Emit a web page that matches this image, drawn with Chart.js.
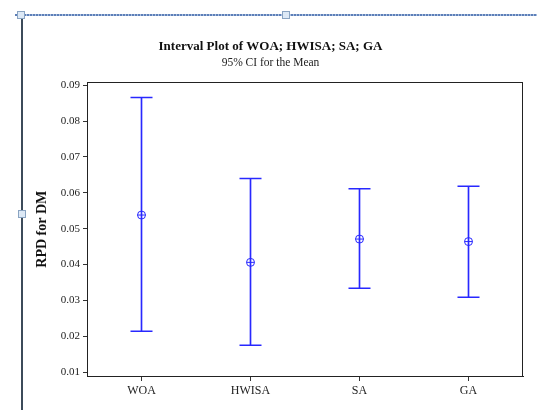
<!DOCTYPE html>
<html>
<head>
<meta charset="utf-8">
<script src="https://cdn.jsdelivr.net/npm/chart.js@4.4.0/dist/chart.umd.min.js"></script>
<style>
  body { margin: 0; background: #fff; }
  #wrap { position: relative; width: 537px; height: 410px; overflow: hidden; }
  #chartBox { position: absolute; left: 18px; top: 16px; width: 519px; height: 394px; }
  .hline { position: absolute; left: 15px; right: 0; top: 14px; height: 2px;
    background: repeating-linear-gradient(90deg, #5d7fb8 0 2px, #a9bfe0 2px 3px); }
  .vline { position: absolute; left: 21px; top: 15px; bottom: 0; width: 2px; background: #3c4b5a; }
  .handle { position: absolute; width: 6px; height: 6px; background: #dde9f6; border: 1px solid #8aa4c2; }
</style>
</head>
<body>
<div id="wrap">
  <div id="chartBox"><canvas id="intervalChart"></canvas></div>
  <div class="hline"></div>
  <div class="vline"></div>
  <div class="handle" style="left:17px;top:11px"></div>
  <div class="handle" style="left:282px;top:11px"></div>
  <div class="handle" style="left:18px;top:210px"></div>
</div>
<script>
  const categories = ['WOA', 'HWISA', 'SA', 'GA'];
  const means = [0.0538, 0.0406, 0.0471, 0.0464];
  const lower = [0.0214, 0.0175, 0.0334, 0.0309];
  const upper = [0.0866, 0.0640, 0.0611, 0.0618];
  const yTicks = [0.01, 0.02, 0.03, 0.04, 0.05, 0.06, 0.07, 0.08, 0.09];

  const blue = '#2828ff';
  const serif = '"Liberation Serif", "Times New Roman", serif';

  // draws the box around the plot area
  const frame = {
    id: 'frame',
    afterDraw(chart) {
      const { ctx, chartArea: a } = chart;
      ctx.save();
      ctx.strokeStyle = '#222';
      ctx.lineWidth = 1;
      ctx.strokeRect(Math.round(a.left) + 0.5, Math.round(a.top) + 0.5,
        Math.round(a.right - a.left) - 1, Math.round(a.bottom - a.top));
      ctx.restore();
    }
  };

  new Chart(document.getElementById('intervalChart'), {
    type: 'bar',
    data: {
      labels: categories,
      datasets: [
        {
          type: 'line', label: 'mean cross', data: means, showLine: false,
          pointStyle: 'cross', pointRadius: 4, borderColor: blue, pointBorderWidth: 1, order: 1
        },
        {
          type: 'line', label: 'mean', data: means, showLine: false,
          pointStyle: 'circle', pointRadius: 4, borderColor: blue,
          backgroundColor: 'rgba(0,0,0,0)', pointBorderWidth: 1, order: 2
        },
        {
          type: 'line', label: 'upper', data: upper, showLine: false,
          pointStyle: 'line', pointRadius: 11, borderColor: blue, pointBorderWidth: 1.5, order: 3
        },
        {
          type: 'line', label: 'lower', data: lower, showLine: false,
          pointStyle: 'line', pointRadius: 11, borderColor: blue, pointBorderWidth: 1.5, order: 3
        },
        {
          label: 'CI', data: lower.map((l, i) => [l, upper[i]]),
          backgroundColor: blue, borderWidth: 0, barThickness: 1, order: 4
        }
      ]
    },
    options: {
      responsive: true,
      maintainAspectRatio: false,
      animation: false,
      layout: { padding: { left: 0, right: 14, top: 0, bottom: 0 } },
      plugins: {
        legend: { display: false },
        tooltip: { enabled: false },
        title: {
          display: true,
          text: 'Interval Plot of WOA; HWISA; SA; GA',
          color: '#111',
          font: { family: serif, size: 13, weight: 'bold' },
          padding: { top: 23, bottom: 0 }
        },
        subtitle: {
          display: true,
          text: '95% CI for the Mean',
          color: '#222',
          font: { family: serif, size: 11.5 },
          padding: { top: 1, bottom: 13 }
        }
      },
      scales: {
        x: {
          offset: true,
          afterFit(scale) { scale.height = 34; },
          grid: { drawOnChartArea: false, drawTicks: true, tickLength: 5, color: '#333', offset: false },
          border: { display: true, color: '#222' },
          ticks: { color: '#222', padding: 3, font: { family: serif, size: 12 } }
        },
        y: {
          min: 0.0089,
          max: 0.0908,
          afterFit(scale) { scale.width = 69; },
          afterBuildTicks(scale) { scale.ticks = yTicks.map(v => ({ value: v })); },
          grid: { drawOnChartArea: false, drawTicks: true, tickLength: 4, color: '#333' },
          border: { display: true, color: '#222' },
          ticks: {
            color: '#222', padding: 3, font: { family: serif, size: 11 },
            callback: v => v.toFixed(2)
          },
          title: {
            display: true,
            text: 'RPD for DM',
            color: '#111',
            font: { family: serif, size: 14, weight: 'bold' },
            padding: { top: 16, bottom: 0 }
          }
        }
      }
    },
    plugins: [frame]
  });
</script>
</body>
</html>
